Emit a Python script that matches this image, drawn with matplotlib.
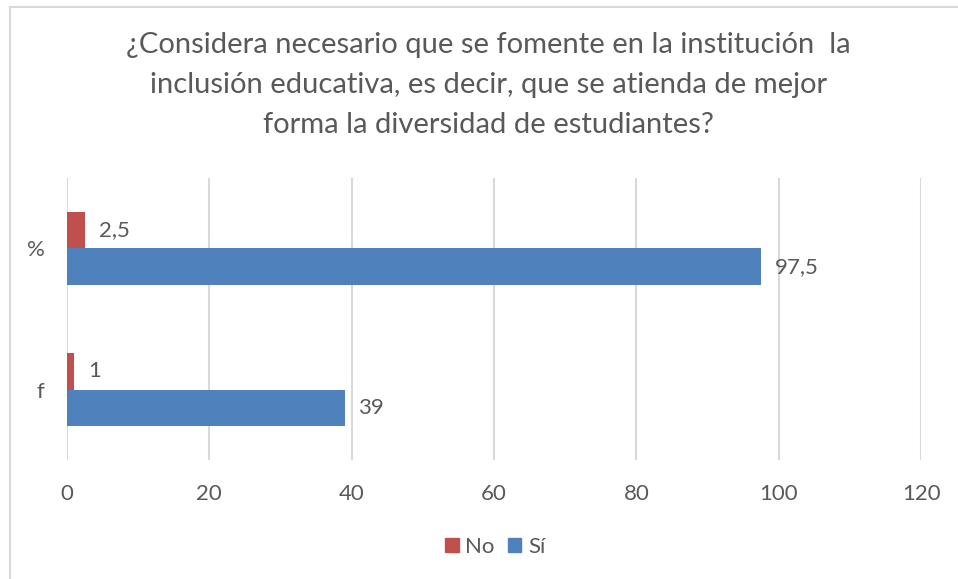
import matplotlib
matplotlib.use("Agg")
import matplotlib.pyplot as plt
from matplotlib.lines import Line2D
from matplotlib.patches import Patch
import numpy as np

plt.rcParams['font.family'] = ['Lato', 'DejaVu Sans']

# data
categories = ["f", "%"]
series_names = ["No", "Sí"]
no_values = [1, 2.5]
si_values = [39, 97.5]
no_labels = ["1", "2,5"]
si_labels = ["39", "97,5"]
x_ticks = [0, 20, 40, 60, 80, 100, 120]

title = ("¿Considera necesario que se fomente en la institución  la\n"
         "inclusión educativa, es decir, que se atienda de mejor\n"
         "forma la diversidad de estudiantes?")

red = "#C0504D"
blue = "#4F81BD"
grid_col = "#D9D9D9"
text_col = "#595959"
fs = 16

fig = plt.figure(figsize=(9.58, 5.79), dpi=100)
ax = fig.add_axes([0.0699, 0.2055, 0.8915, 0.4871])

y = np.arange(len(categories))
h = 0.262
ax.barh(y + h / 2, no_values, height=h, color=red, label=series_names[0], zorder=3)
ax.barh(y - h / 2, si_values, height=h, color=blue, label=series_names[1], zorder=3)

for yi, v, lab in zip(y, no_values, no_labels):
    ax.annotate(lab, (v, yi + h / 2), xytext=(10, 0), textcoords="offset points",
                va="center", ha="left", fontsize=fs, color=text_col)
for yi, v, lab in zip(y, si_values, si_labels):
    ax.annotate(lab, (v, yi - h / 2), xytext=(10, 0), textcoords="offset points",
                va="center", ha="left", fontsize=fs, color=text_col)

ax.set_xlim(0, 120)
ax.set_ylim(-0.5, 1.5)
ax.set_xticks(x_ticks)
ax.set_xticklabels([str(t) for t in x_ticks], fontsize=fs, color=text_col)
ax.set_yticks(y)
ax.set_yticklabels(categories, fontsize=fs, color=text_col)
ax.tick_params(length=0)
ax.tick_params(axis="x", pad=17)
ax.tick_params(axis="y", pad=16)
ax.grid(axis="x", color=grid_col, linewidth=1.5, zorder=0)
for s in ax.spines.values():
    s.set_visible(False)

fig.text(0.510, 0.944, title, ha="center", va="top", fontsize=21,
         color=text_col, linespacing=1.66)

handles = [Patch(color=red, label="No"), Patch(color=blue, label="Sí")]
fig.legend(handles=handles, loc="center", bbox_to_anchor=(0.517, 0.056), ncol=2,
           frameon=False, fontsize=fs, handlelength=0.6, handleheight=0.6,
           handletextpad=0.3, columnspacing=0.6, labelcolor=text_col)

# chart border (top and left visible)
fig.add_artist(Line2D([10 / 958, 1], [1 - 7 / 579, 1 - 7 / 579],
                      transform=fig.transFigure, color=grid_col, linewidth=1.5))
fig.add_artist(Line2D([10 / 958, 10 / 958], [0, 1 - 7 / 579],
                      transform=fig.transFigure, color=grid_col, linewidth=1.5))

fig.savefig("out.png", dpi=100)
